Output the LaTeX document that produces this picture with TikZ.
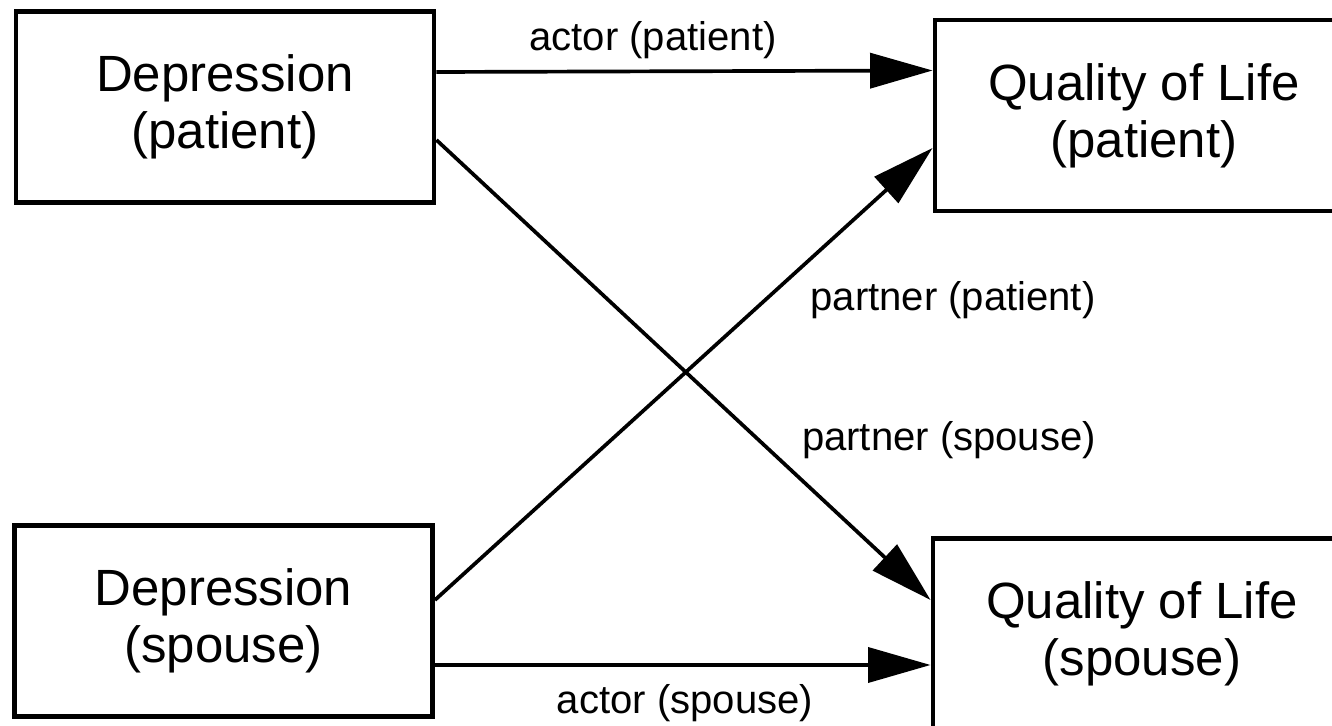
\documentclass[tikz,border=0pt]{standalone}
\usepackage{fontspec}
\setmainfont{Liberation Sans}
\usetikzlibrary{arrows.meta}

\begin{document}
\begin{tikzpicture}[box/.style={draw, line width=2.8pt, minimum width=8.36cm, minimum height=3.82cm, align=center, font=\fontsize{29}{32.5}\selectfont
}, lbl/.style={font=\fontsize{22.8}{26}\selectfont
}, myto/.style={-{Triangle[length=12.5mm, width=7mm]}, line width=2.1pt
}]
\useasboundingbox (0,0) rectangle (26.64,14.52);

\node[box] (DP) at (4.5,12.38) {Depression\\(patient)};
\node[box] (QP) at (22.88,12.21) {Quality of Life\\(patient)};
\node[box] (DS) at (4.47,2.1) {Depression\\(spouse)};
\node[box] (QS) at (22.84,1.84) {Quality of Life\\(spouse)};

\node[lbl] (ap) at (13.06,13.72) {actor (patient)};
\node[lbl] (pp) at (19.06,8.52) {partner (patient)};
\node[lbl] (ps) at (18.98,5.72) {partner (spouse)};
\node[lbl] (as) at (13.7,0.46) {actor (spouse)};

\foreach \i/\a/\j/\b in {DP/7/QP/9,DP/-6.6/QS/6.8,DS/4.2/QP/-6.5,DS/-8.8/QS/-6.2}{\draw[myto] ([yshift=\a mm]\i.east) -- ([yshift=\b mm]\j.west);}
\end{tikzpicture}
\end{document}
